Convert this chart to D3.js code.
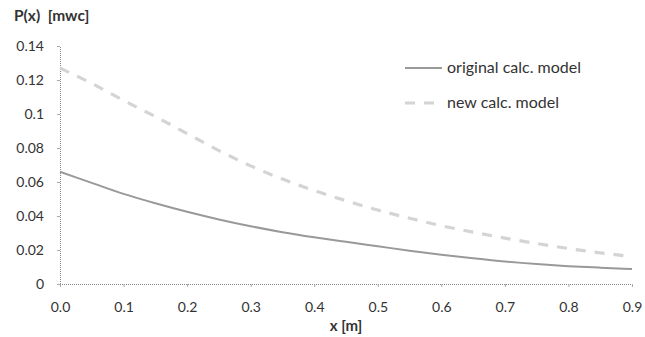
<!DOCTYPE html>
<html><head><meta charset="utf-8">
<script src="https://cdn.jsdelivr.net/npm/d3@7"></script>
<style>body{margin:0;background:#fff;} svg{display:block;font-family:Lato,"Open Sans",sans-serif;}</style>
</head><body>
<svg id="c" width="645" height="337"></svg>
<script>
const xValues = [0,0.05,0.1,0.15,0.2,0.25,0.3,0.35,0.4,0.45,0.5,0.55,0.6,0.65,0.7,0.75,0.8,0.85,0.9];
const originalModel = [0.066,0.0595,0.053,0.0475,0.0425,0.038,0.034,0.0305,0.0275,0.0248,0.0222,0.0196,0.0172,0.0151,0.0132,0.0117,0.0105,0.0096,0.0088];
const newModel = [0.127,0.118,0.108,0.0985,0.0885,0.0785,0.0695,0.0617,0.055,0.049,0.0435,0.0387,0.0343,0.0305,0.027,0.0238,0.0209,0.0183,0.0162];
const xTicks = [0,0.1,0.2,0.3,0.4,0.5,0.6,0.7,0.8,0.9];
const yTicks = [0,0.02,0.04,0.06,0.08,0.1,0.12,0.14];
const seriesNames = ["original calc. model","new calc. model"];

const svg = d3.select("#c");
const x = d3.scaleLinear().domain([0,0.9]).range([60,632]);
const y = d3.scaleLinear().domain([0,0.14]).range([284,46]);

const xAxis = svg.append("g").attr("transform","translate(0,284)")
  .call(d3.axisBottom(x).tickValues(xTicks).tickFormat(d3.format(".1f")).tickSize(3).tickPadding(15));
const yAxis = svg.append("g").attr("transform","translate(60,0)")
  .call(d3.axisLeft(y).tickValues(yTicks).tickFormat(d=>d===0?"0":String(+d.toFixed(2))).tickSize(3).tickPadding(13));
[xAxis,yAxis].forEach(a=>{
  a.select(".domain").attr("stroke","#888").attr("stroke-width",1).attr("stroke-dasharray","1,1");
  a.selectAll(".tick line").attr("stroke","#aaa");
  a.selectAll("text").attr("fill","#333").style("font-size","14px").style("font-family","Lato,'Open Sans',sans-serif");
});

const line = d3.line().x((d,i)=>x(xValues[i])).y(d=>y(d)).curve(d3.curveMonotoneX);
svg.append("path").datum(newModel).attr("d",line).attr("fill","none")
  .attr("stroke","#d4d4d4").attr("stroke-width",3.2).attr("stroke-dasharray","10,9");
svg.append("path").datum(originalModel).attr("d",line).attr("fill","none")
  .attr("stroke","#999").attr("stroke-width",2);

svg.append("text").attr("x",14).attr("y",21).text("P(x)  [mwc]").style("white-space","pre")
  .attr("fill","#333").style("font-size","15.5px").style("font-weight","bold");
svg.append("text").attr("x",346).attr("y",331).attr("text-anchor","middle").text("x [m]")
  .attr("fill","#333").style("font-size","15px").style("font-weight","bold");

const leg = svg.append("g");
const styles = [{c:"#999",w:2,da:null},{c:"#d4d4d4",w:3.2,da:"10,9"}];
seriesNames.forEach((n,i)=>{
  const yy = 68 + i*35;
  leg.append("line").attr("x1",405).attr("x2",442).attr("y1",yy).attr("y2",yy)
    .attr("stroke",styles[i].c).attr("stroke-width",styles[i].w).attr("stroke-dasharray",styles[i].da);
  leg.append("text").attr("x",447).attr("y",yy+5).text(n).attr("fill","#333").style("font-size","16px");
});
</script>
</body></html>
